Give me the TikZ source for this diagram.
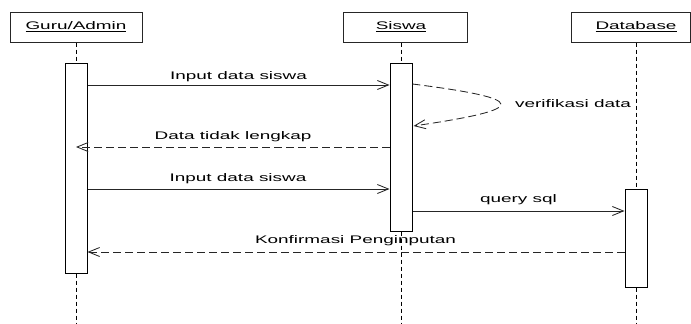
\documentclass[tikz,border=0pt]{standalone}
\usepackage{fontspec}
\usepackage{graphicx}
\setmainfont{Liberation Sans}
\usetikzlibrary{arrows.meta}
% wide lettering used throughout the diagram
\newcommand{\wide}[1]{\scalebox{1.72}[1]{#1}}
\begin{document}
\begin{tikzpicture}[x=1pt,y=-1pt,
  lbl/.style={font=\fontsize{11pt}{13pt}\selectfont, text=black, inner sep=0pt},
  actorbox/.style={draw=black!85, line width=1pt, minimum height=30pt, inner sep=0pt},
  actbar/.style={draw=black, fill=white, line width=1pt, minimum width=22pt, inner sep=0pt},
  lifeline/.style={draw=black, line width=1pt, dash pattern=on 4pt off 3pt},
  msg/.style={draw=black!85, line width=0.85pt, -{Straight Barb[length=11pt,width=9pt,line width=0.85pt]}},
  reply/.style={msg, dash pattern=on 8pt off 4pt}]
\useasboundingbox (0,0) rectangle (691,324);

% participants
\node[actorbox, minimum width=132pt] (guru) at (76,27) {};
\node[lbl] (guruT) at (76,27) {\wide{\underline{Guru/Admin}}};
\node[actorbox, minimum width=124pt] (siswa) at (405,27) {};
\node[lbl] (siswaT) at (401,27) {\wide{\underline{Siswa}}};
\node[actorbox, minimum width=119.5pt] (db) at (630.75,27) {};
\node[lbl] (dbT) at (636,27) {\wide{\underline{Database}}};

% lifeline ends
\coordinate (guruEnd) at (76,324);
\coordinate (siswaEnd) at (401,324);
\coordinate (dbEnd) at (636,324);
\draw[lifeline] (guru.south -| guruEnd) -- (guruEnd);
\draw[lifeline] (siswa.south -| siswaEnd) -- (siswaEnd);
\draw[lifeline] (db.south -| dbEnd) -- (dbEnd);

% activation bars
\node[actbar, minimum height=210pt] (ga) at (76,168) {};
\node[actbar, minimum height=168pt] (sa) at (401,147) {};
\node[actbar, minimum height=98pt] (da) at (636,238) {};

% messages
\draw[msg] (ga.east |- 0,85) -- (sa.west |- 0,85);
\node[lbl, anchor=base] (m1) at (238.5,79) {\wide{Input data siswa}};

\draw[reply] (sa.east |- 0,84) .. controls (530,99) and (530,109) .. ([xshift=1pt]sa.east |- 0,126);
\node[lbl, anchor=base west] (m2) at (515,107) {\wide{verifikasi data}};

\draw[reply] (sa.west |- 0,147) -- (ga.center |- 0,147);
\node[lbl, anchor=base] (m3) at (233,139) {\wide{Data tidak lengkap}};

\draw[msg] (ga.east |- 0,189) -- (sa.west |- 0,189);
\node[lbl, anchor=base] (m4) at (238,181) {\wide{Input data siswa}};

\draw[msg] (sa.east |- 0,211) -- (da.west |- 0,211);
\node[lbl, anchor=base] (m5) at (518.5,202) {\wide{query sql}};

\draw[reply] (da.west |- 0,252) -- (ga.east |- 0,252);
\node[lbl, anchor=base] (m6) at (355.5,243) {\wide{Konfirmasi Penginputan}};
\end{tikzpicture}
\end{document}
